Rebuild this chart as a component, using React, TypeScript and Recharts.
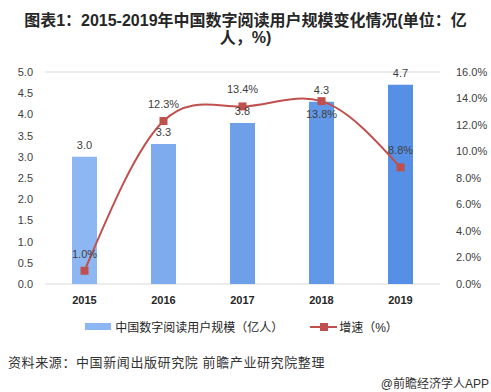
import React from "react";
import {
  ComposedChart,
  Bar,
  Line,
  XAxis,
  YAxis,
  CartesianGrid,
  LabelList,
  Cell,
} from "recharts";

const years = ["2015", "2016", "2017", "2018", "2019"];
const users = [3.0, 3.3, 3.8, 4.3, 4.7];
const growth = [1.0, 12.3, 13.4, 13.8, 8.8];
const barColors = ["#8DB7F3", "#7DABEE", "#6EA0EA", "#6198E8", "#5590E6"];
const leftTicks = [0, 0.5, 1, 1.5, 2, 2.5, 3, 3.5, 4, 4.5, 5];
const rightTicks = [0, 2, 4, 6, 8, 10, 12, 14, 16];

const data = years.map((y, i) => ({ year: y, users: users[i], growth: growth[i] }));

const FONT = "'Liberation Sans', 'Noto Sans CJK SC', sans-serif";
const RED = "#C0504D";

function SquareDot(props: any) {
  const { cx, cy } = props;
  if (cx == null || cy == null) return null;
  return <rect x={cx - 4} y={cy - 4} width={8} height={8} fill={RED} />;
}

function GrowthLabel(props: any) {
  const { x, y, value, index } = props;
  const below = index === 3;
  return (
    <text
      x={x}
      y={below ? y + 17 : y - 13}
      textAnchor="middle"
      fontSize={11}
      fill="#404040"
      fontFamily={FONT}
    >
      {value.toFixed(1)}%
    </text>
  );
}

export default function App() {
  return (
    <div
      style={{
        position: "absolute",
        left: 0,
        top: 0,
        width: 491,
        height: 392,
        background: "#fff",
        fontFamily: FONT,
      }}
    >
      <div
        style={{
          position: "absolute",
          top: 12,
          left: 0,
          width: 491,
          textAlign: "center",
          fontSize: 16,
          lineHeight: "17px",
          fontWeight: "bold",
          color: "#262626",
        }}
      >
        图表1：2015-2019年中国数字阅读用户规模变化情况(单位：亿
        <br />
        人，%)
      </div>
      <ComposedChart
        width={491}
        height={392}
        data={data}
        margin={{ top: 72, right: 0, bottom: 78, left: 0 }}
        style={{ position: "absolute", left: 0, top: 0 }}
      >
        <CartesianGrid vertical={false} stroke="#D9D9D9" />
        <XAxis
          dataKey="year"
          axisLine={false}
          tickLine={false}
          tick={{ fontSize: 11, fill: "#262626", fontWeight: "bold", fontFamily: FONT }}
          height={30}
          tickMargin={6}
        />
        <YAxis
          yAxisId="left"
          width={45}
          domain={[0, 5]}
          ticks={leftTicks}
          tickFormatter={(v) => v.toFixed(1)}
          axisLine={false}
          tickLine={false}
          tick={{ fontSize: 11, fill: "#404040", fontFamily: FONT }}
          tickMargin={6}
        />
        <YAxis
          yAxisId="right"
          orientation="right"
          width={51}
          domain={[0, 16]}
          ticks={rightTicks}
          tickFormatter={(v) => `${v.toFixed(1)}%`}
          axisLine={false}
          tickLine={false}
          tick={{ fontSize: 11, fill: "#404040", fontFamily: FONT }}
          tickMargin={10}
        />
        <Bar yAxisId="left" dataKey="users" barSize={25} isAnimationActive={false}>
          {data.map((d, i) => (
            <Cell key={d.year} fill={barColors[i]} />
          ))}
          <LabelList
            dataKey="users"
            position="top"
            offset={8}
            formatter={(v: any) => Number(v).toFixed(1)}
            style={{ fontSize: 11, fill: "#404040", fontFamily: FONT }}
          />
        </Bar>
        <Line
          yAxisId="right"
          dataKey="growth"
          type="natural"
          stroke={RED}
          strokeWidth={2}
          dot={<SquareDot />}
          activeDot={false}
          isAnimationActive={false}
        >
          <LabelList dataKey="growth" content={<GrowthLabel />} />
        </Line>
      </ComposedChart>
      <div
        style={{
          position: "absolute",
          top: 318,
          left: 0,
          width: 491,
          display: "flex",
          justifyContent: "center",
          alignItems: "center",
          fontSize: 12,
          color: "#262626",
        }}
      >
        <span style={{ display: "inline-block", width: 26, height: 7, background: "#8DB7F3", marginRight: 4, marginLeft: -8 }} />
        <span>中国数字阅读用户规模（亿人）</span>
        <span style={{ position: "relative", display: "inline-block", width: 27, height: 10, marginLeft: 27, marginRight: 2 }}>
          <span style={{ position: "absolute", left: 0, top: 4, width: 27, height: 2, background: RED }} />
          <span style={{ position: "absolute", left: 10, top: 1, width: 8, height: 8, background: RED }} />
        </span>
        <span>增速（%）</span>
      </div>
      <div
        style={{
          position: "absolute",
          top: 352,
          left: 8,
          fontSize: 13,
          color: "#333",
          letterSpacing: 0.6,
        }}
      >
        资料来源：中国新闻出版研究院 前瞻产业研究院整理
      </div>
      <div
        style={{
          position: "absolute",
          top: 374,
          right: 2,
          fontSize: 12,
          color: "#333",
        }}
      >
        @前瞻经济学人APP
      </div>
    </div>
  );
}
